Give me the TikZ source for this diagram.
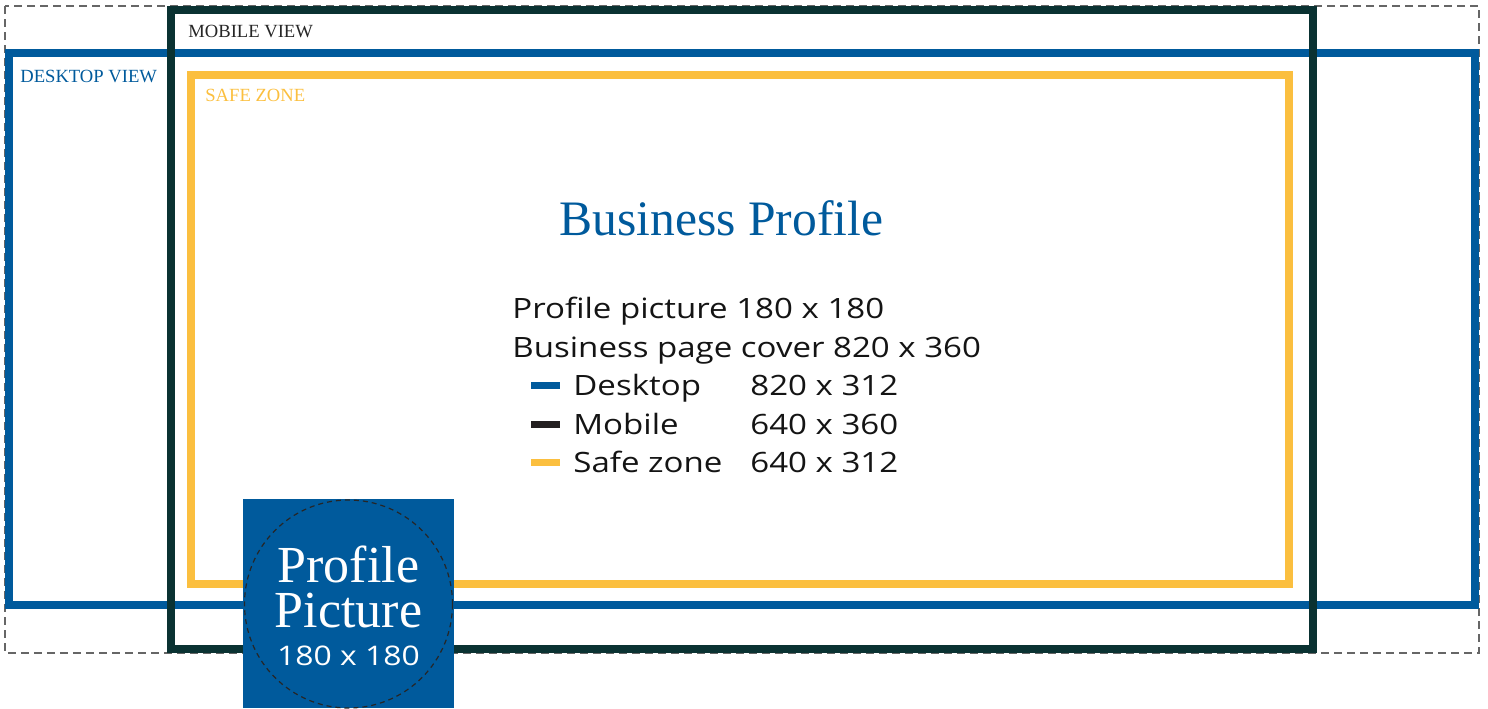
\documentclass[tikz,border=0pt]{standalone}
\usepackage{fontspec}
\setmainfont{Liberation Serif}
\setsansfont[FakeStretch=1.18]{Open Sans}

\definecolor{deskblue}{HTML}{005A9C}
\definecolor{mobiledark}{HTML}{0A3232}
\definecolor{safeyellow}{HTML}{FBBF3F}
\definecolor{bardark}{HTML}{231F20}

\tikzset{
  frame/.style={line width=4pt},
  caption/.style={font=\fontsize{9.3}{9.3}\selectfont, anchor=base west, inner sep=0pt},
  spec/.style={font=\sffamily\fontsize{14}{14}\selectfont, anchor=base west, inner sep=0pt, text=black!92},
  swatch/.style={line width=3.5pt},
  avatar/.style={anchor=base, inner sep=0pt, text=white},
}

\begin{document}
\begin{tikzpicture}[x=0.5pt,y=-0.5pt]
    \useasboundingbox (0,0) rectangle (1488,708);
    % outer guide
    \draw[black!60, line width=0.75pt, dash pattern=on 4pt off 2.5pt] (5,6) rectangle (1479,653);
    % the three crops
    \draw[frame,deskblue] (9,53) rectangle (1475,605);
    \draw[frame,safeyellow] (191,75) rectangle (1289,584);
    \draw[frame,mobiledark] (171,10) rectangle (1313,649);
    \node[caption,text=black!85] (mobilelbl) at (188,37) {MOBILE VIEW};
    \node[caption,text=deskblue] (desklbl) at (20,82) {DESKTOP VIEW};
    \node[caption,text=safeyellow] (safelbl) at (205,101) {SAFE ZONE};

    \node[font=\fontsize{24.8}{24.8}\selectfont, anchor=base west, inner sep=0pt, text=deskblue] (title) at (559,235) {Business Profile};
    \node[spec] (pp) at (512,318) {Profile picture 180 x 180};
    \node[spec] (cover) at (512,357) {Business page cover 820 x 360};
    \foreach \name/\col/\size/\y [count=\i] in {Desktop/deskblue/820 x 312/395, Mobile/bardark/640 x 360/434, Safe zone/safeyellow/640 x 312/472} {
      \draw[swatch,\col] (531,\y-10) -- (560,\y-10);
      \node[spec] (leg\i) at (573,\y) {\name};
      \node[spec] (size\i) at (750,\y) {\size};
    }

    % profile picture badge
    \fill[deskblue] (243,499) rectangle (454,708);
    \draw[black!85, line width=0.6pt, dash pattern=on 2.5pt off 2pt] (348.5,604) circle [radius=52pt];
    \node[avatar, align=center, font=\fontsize{26}{22.5}\selectfont] (avatarname) at (348.5,627) {Profile\\Picture};
    \node[avatar, font=\sffamily\fontsize{13.5}{13.5}\selectfont] (avatarsize) at (348.5,665) {180 x 180};
\end{tikzpicture}
\end{document}
